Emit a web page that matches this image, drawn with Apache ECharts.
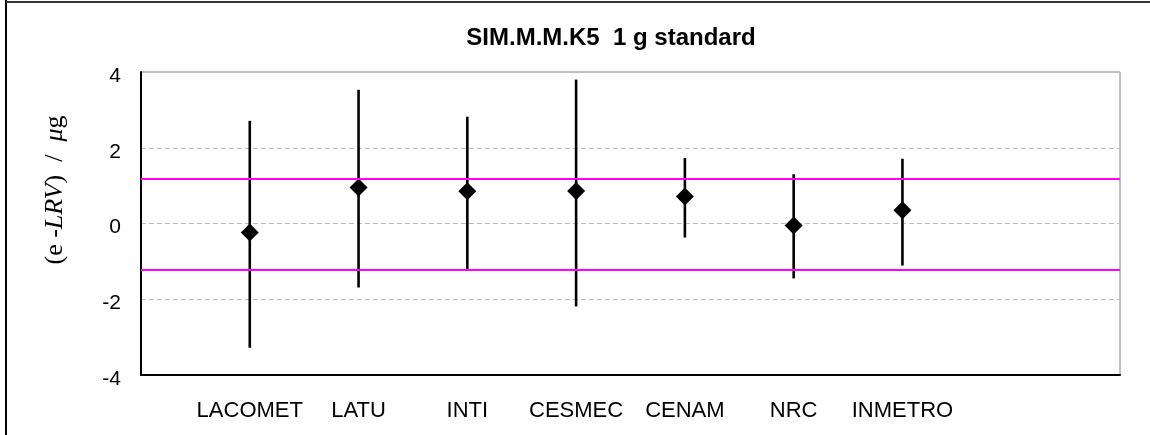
<!DOCTYPE html>
<html>
<head>
<meta charset="utf-8">
<script src="https://cdn.jsdelivr.net/npm/echarts@6/dist/echarts.min.js"></script>
<style>html,body{margin:0;padding:0;background:#fff;}#c{width:1150px;height:435px;}</style>
</head>
<body>
<div id="c"></div>
<script>
const categories = ['LACOMET', 'LATU', 'INTI', 'CESMEC', 'CENAM', 'NRC', 'INMETRO'];
const values = [-0.24, 0.95, 0.85, 0.86, 0.71, -0.05, 0.35];
const upper = [2.71, 3.53, 2.82, 3.80, 1.73, 1.30, 1.71];
const lower = [-3.28, -1.69, -1.20, -2.19, -0.37, -1.45, -1.11];
const limits = [1.18, -1.23];
const yTicks = [-4, -2, 0, 2, 4];

const pts = categories.map((c, i) => [i + 1, values[i]]);
const bars = categories.map((c, i) => [i + 1, lower[i], upper[i]]);

const chart = echarts.init(document.getElementById('c'), null, {renderer: 'canvas'});
chart.setOption({
  animation: false,
  backgroundColor: '#fff',
  title: {
    text: 'SIM.M.M.K5  1 g standard',
    left: 606, top: 21, textAlign: 'center',
    textStyle: {fontFamily: 'Liberation Sans', fontWeight: 'bold', fontSize: 24, color: '#000'}
  },
  grid: {left: 141, right: 30, top: 72, bottom: 60, show: true, borderColor: '#808080', borderWidth: 1, backgroundColor: '#fff'},
  xAxis: {
    type: 'value', min: 0, max: categories.length + 2, interval: 1,
    axisLine: {show: true, onZero: false, lineStyle: {color: '#000', width: 2}},
    axisTick: {show: false},
    splitLine: {show: false},
    axisLabel: {
      margin: 25, fontFamily: 'Liberation Sans', fontSize: 22, color: '#000',
      formatter: v => (v >= 1 && v <= categories.length) ? categories[v - 1] : ''
    }
  },
  yAxis: {
    type: 'value', min: yTicks[0], max: yTicks[yTicks.length - 1], interval: 2,
    axisLine: {show: true, onZero: false, lineStyle: {color: '#000', width: 2}},
    axisTick: {show: false},
    splitLine: {show: true, lineStyle: {color: '#bdbdbd', type: [5, 3], width: 1}},
    axisLabel: {
      margin: 20, color: '#000',
      formatter: v => '{a|' + v + '}',
      rich: {a: {fontFamily: 'Liberation Sans', fontSize: 21, color: '#000', padding: [8, 0, 0, 0]}}
    }
  },
  graphic: [
    {type: 'line', shape: {x1: 6, y1: 0, x2: 6, y2: 435}, style: {stroke: '#000', lineWidth: 2}, z: 100},
    {type: 'line', shape: {x1: 6, y1: 2, x2: 1150, y2: 2}, style: {stroke: '#333', lineWidth: 2}, z: 100},
    {
      type: 'text', x: 55, y: 190, rotation: Math.PI / 2, z: 100,
      style: {
        text: '{n|(e -}{i|LRV}{n|)  /  }{i|μ}{n|g}',
        align: 'center', verticalAlign: 'middle',
        rich: {
          n: {fontFamily: 'Liberation Serif', fontSize: 26, fill: '#000'},
          i: {fontFamily: 'Liberation Serif', fontStyle: 'italic', fontSize: 26, fill: '#000'}
        }
      }
    }
  ],
  series: [
    {
      type: 'custom', z: 3,
      data: bars,
      renderItem: function (params, api) {
        const x = api.value(0);
        const lo = api.coord([x, api.value(1)]);
        const hi = api.coord([x, api.value(2)]);
        return {type: 'line', shape: {x1: lo[0], y1: lo[1], x2: hi[0], y2: hi[1]}, style: {stroke: '#000', lineWidth: 2.6}};
      }
    },
    {
      type: 'scatter', z: 4,
      data: pts,
      symbol: 'diamond', symbolSize: [18, 18],
      itemStyle: {color: '#000', opacity: 1},
      markLine: {
        silent: true, symbol: 'none', label: {show: false},
        lineStyle: {color: '#ff00ff', type: 'solid', width: 2, opacity: 1},
        data: limits.map(v => ({yAxis: v}))
      }
    }
  ]
});
</script>
</body>
</html>
